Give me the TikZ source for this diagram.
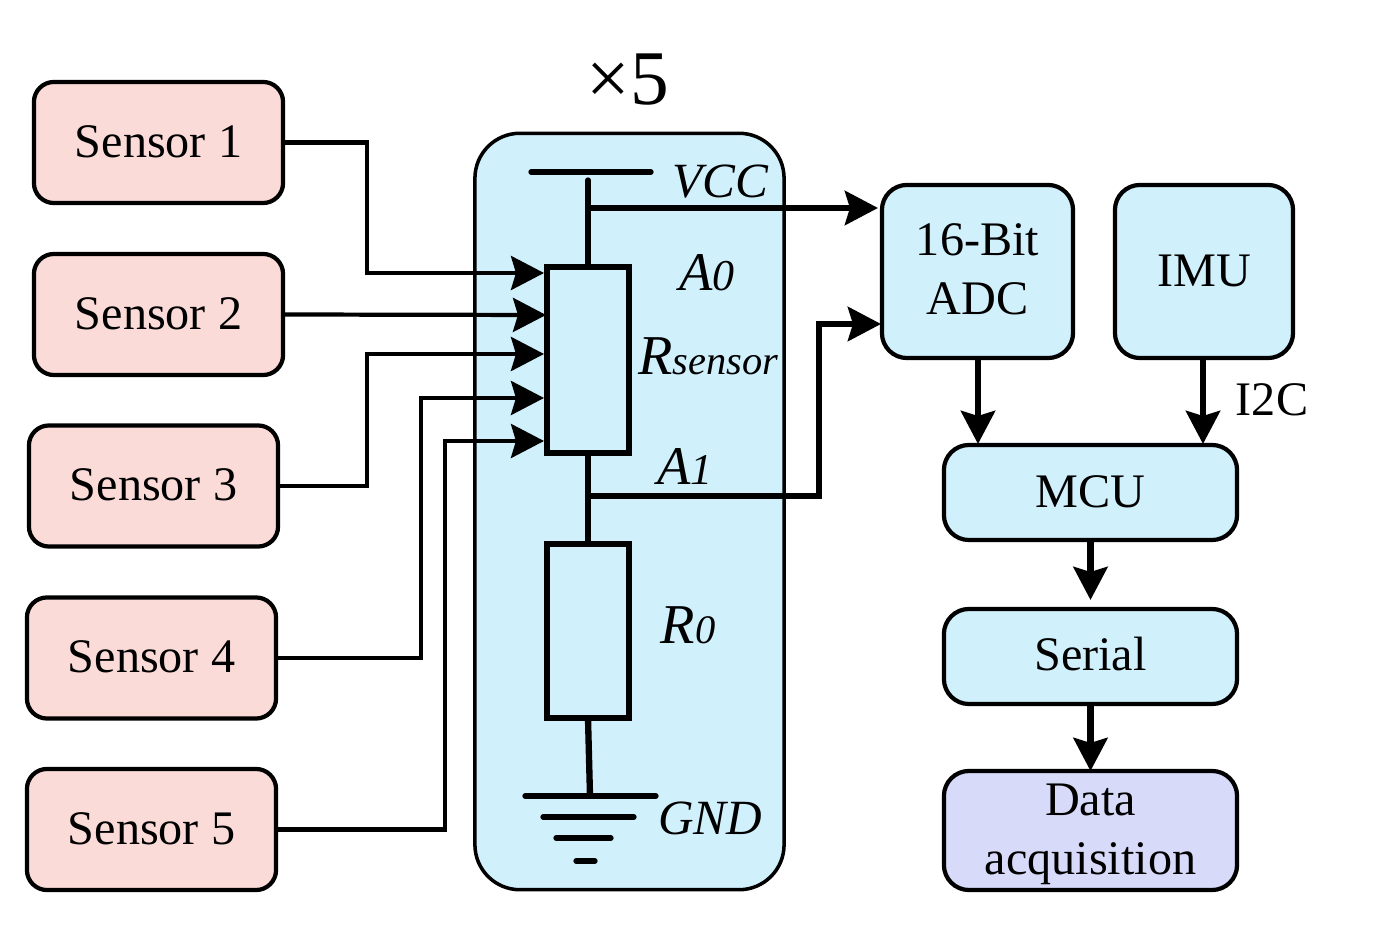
\documentclass[tikz,border=0pt]{standalone}
\usepackage{fontspec}
\setmainfont{Liberation Serif}
\usetikzlibrary{arrows.meta,positioning,calc}

\tikzset{
  block/.style={draw,line width=1.2pt,rounded corners=0.2cm,align=center,outer sep=0pt,inner sep=0pt,
    font=\fontsize{13.7}{16.8}\selectfont},
  oneline/.style={text height=9.4pt,text depth=1pt},
  sensor/.style={block,oneline,fill=sensorpink,minimum width=2.49cm,minimum height=1.21cm},
  unit/.style={block,fill=unitblue,rounded corners=0.25cm},
  resbox/.style={draw,line width=1.7pt,minimum width=0.82cm,outer sep=0pt,inner sep=0pt},
  wire/.style={line width=1.2pt},
  heavy/.style={line width=1.8pt},
  tip/.style={-{Stealth[length=0.33cm,width=0.34cm,inset=0.05cm]}},
  rail/.style={line width=1.5pt,line cap=round},
  lbl/.style={inner sep=0pt,font=\fontsize{14}{16}\selectfont\itshape},
}
\definecolor{sensorpink}{RGB}{250,219,216}
\definecolor{unitblue}{RGB}{208,240,252}
\definecolor{datapurple}{RGB}{216,218,249}
\newcommand{\subsz}{\fontsize{12.5}{13}\selectfont}

\begin{document}
\begin{tikzpicture}[x=0.01cm,y=-0.01cm]
    \useasboundingbox (0,0) rectangle (1399,946);

    % sensor channel housing
    \node[block,fill=unitblue,line width=1pt,rounded corners=0.45cm,minimum width=3.09cm,minimum height=7.56cm] (housing) at (629.5,511.5) {};
    \node[font=\fontsize{22}{24}\selectfont,inner sep=0pt] (times5) at (628,80) {×5};

    % draw sensors
    \node[sensor] (sensor1) at (158.5,142.5) {Sensor 1};
    \node[sensor] (sensor2) at (158.5,314.5) {Sensor 2};
    \node[sensor] (sensor3) at (153.5,486) {Sensor 3};
    \node[sensor] (sensor4) at (151.5,658) {Sensor 4};
    \node[sensor] (sensor5) at (151.5,829.5) {Sensor 5};

    % draw right hand blocks
    \node[unit,minimum width=1.91cm,minimum height=1.73cm] (adc) at (977.5,271.5) {16-Bit\\ADC\rule[-1.2pt]{0pt}{0pt}};
    \node[unit,oneline,minimum width=1.78cm,minimum height=1.73cm] (imu) at (1204,271.5) {IMU};
    \node[unit,oneline,minimum width=2.93cm,minimum height=0.95cm] (mcu) at (1090.5,492.5) {MCU};
    \node[unit,oneline,text depth=1.4pt,minimum width=2.93cm,minimum height=0.95cm] (serial) at (1090.5,656.5) {Serial};
    \node[block,fill=datapurple,rounded corners=0.25cm,minimum width=2.93cm,minimum height=1.19cm] (data) at (1090.5,830.5) {\rule{0pt}{11.1pt}Data\\acquisition};

    % draw divider
    \node[resbox,minimum height=1.86cm] (rsensor) at (588,360) {};
    \node[resbox,minimum height=1.74cm] (rzero) at (588,631) {};

    \coordinate (vcctop) at (588,180);
    \coordinate (a0) at (588,208);
    \coordinate (a1) at (588,496);
    \coordinate (a1turn) at (819,496);
    \coordinate (adcin0) at (878,208);
    \coordinate (adcin1) at (881,324);
    \coordinate (gndtop) at (590,796);

    \draw[rail] (531,172) coordinate (vccl) -- (651,172) coordinate (vccr);
    \draw[rail] (vcctop) -- (rsensor.north);
    \draw[heavy] (rsensor.south) -- (rzero.north);
    \draw[heavy] (rzero.south) -- (gndtop);
    \draw[heavy,tip] (a0) -- (adcin0);
    \draw[heavy,tip] (a1) -- (a1turn) -- (819,324) -- (adcin1);

    % draw ground
    \draw[rail] (525,796) -- (656,796);
    \draw[rail] (543,817) -- (634,817);
    \draw[rail] (556,838) -- (611,838);
    \draw[rail] (576,861) -- (595,861);

    % sensor inputs
    \coordinate (in1) at (544,273);
    \coordinate (in2) at (546,315);
    \coordinate (in3) at (544,354);
    \coordinate (in4) at (544,398);
    \coordinate (in5) at (544,441);
    \draw[wire,tip] (sensor1.east) -| (367,273) -- (in1);
    \draw[wire,tip] (sensor2.east) -- (in2);
    \draw[wire,tip] (sensor3.east) -| (367,354) -- (in3);
    \draw[wire,tip] (sensor4.east) -| (421,398) -- (in4);
    \draw[wire,tip] (sensor5.east) -| (445,441) -- (in5);

    % digital side
    \coordinate (mcuin) at (978,444);
    \coordinate (mcuimu) at (1203,444);
    \coordinate (serialin) at (1090.5,600);
    \draw[heavy,tip] (mcuin |- adc.south) -- (mcuin);
    \draw[heavy,tip] (mcuimu |- imu.south) -- (mcuimu);
    \draw[heavy,tip] (mcu.south) -- (serialin);
    \draw[heavy,tip] (serial.south) -- (data.north);

    % labels
    \node[lbl] (vcc) at (720,182) {VCC};
    \node[lbl,font=\fontsize{15.5}{16}\selectfont\itshape] (a0lbl) at (707,273) {A{\subsz 0}};
    \node[lbl,font=\fontsize{16}{16}\selectfont\itshape] (rlbl) at (708,356) {R{\fontsize{11.5}{13}\selectfont sensor}};
    \node[lbl,font=\fontsize{15.5}{16}\selectfont\itshape] (a1lbl) at (685,467) {A{\subsz 1}};
    \node[lbl,font=\fontsize{16}{16}\selectfont\itshape] (r0lbl) at (688,625) {R{\fontsize{11.5}{13}\selectfont 0}};
    \node[lbl] (gnd) at (710,818) {GND};
    \node[inner sep=0pt,font=\fontsize{13.7}{16}\selectfont] (i2c) at (1272,400) {I2C};
\end{tikzpicture}
\end{document}
